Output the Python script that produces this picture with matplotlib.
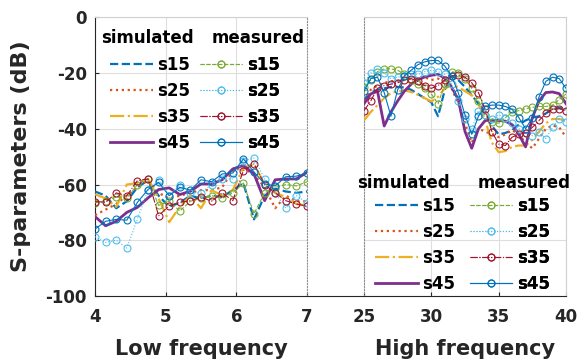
import numpy as np
import matplotlib.pyplot as plt
from matplotlib.lines import Line2D

plt.rcParams['font.family'] = 'DejaVu Sans'
plt.rcParams['font.weight'] = 'bold'
plt.rcParams['axes.labelweight'] = 'bold'
plt.rcParams['axes.unicode_minus'] = False

# ---- low band (GHz) ----
low_freq = [4.00, 4.15, 4.30, 4.45, 4.60, 4.75, 4.90, 5.05, 5.20, 5.35, 5.50,
            5.65, 5.80, 5.95, 6.10, 6.25, 6.40, 6.55, 6.70, 6.85, 7.00]

low_sim_s15 = [-62.5, -64, -68.5, -66, -61, -58.5, -64, -68, -66.5, -64, -65,
               -64, -64.5, -62, -59.5, -72.5, -64, -61.5, -62.5, -63, -62.5]
low_sim_s25 = [-71, -69, -67, -64, -61, -58.5, -63, -65, -64, -63, -62,
               -62, -61, -55, -54, -56.5, -61, -68.5, -64, -66, -66]
low_sim_s35 = [-63.5, -65, -68, -60, -59.5, -58, -65, -73.5, -68, -64, -68.5,
               -62, -64, -62, -54, -52.5, -60, -63, -64.5, -67, -67.5]
low_sim_s45 = [-71.5, -74.8, -73.2, -70, -68.2, -64.8, -61.8, -61.2, -63.6, -62.4, -59.8,
               -59.8, -58.3, -54.4, -53.2, -56.2, -65.8, -58.3, -58, -58, -55.6]

low_meas_s15 = [-66.5, -66, -64.5, -65, -60, -58, -67.5, -66, -69.5, -66, -65,
                -64, -65, -63, -59.5, -70.5, -63, -61, -60, -60.5, -59]
low_meas_s25 = [-78.7, -80.8, -80, -82.8, -72.4, -62, -58.3, -64, -60, -63, -63,
                -60, -58, -58, -51.5, -50.5, -58, -63, -68.5, -64, -66.5]
low_meas_s35 = [-66.1, -66.4, -63, -64, -58.6, -58, -71.2, -67.6, -66.4, -65.8, -64.5,
                -66, -63, -65.8, -55, -52.6, -60, -63, -65.8, -67, -67.8]
low_meas_s45 = [-76, -73.2, -72.5, -72.8, -66.4, -61.8, -59.2, -64.0, -61.0, -62.0, -58.3,
                -59.0, -56.2, -55.9, -50.8, -55.5, -59.8, -60.5, -57.2, -57.0, -55.8]

# ---- high band (GHz) ----
high_freq = [25.0, 25.5, 26.0, 26.5, 27.0, 27.5, 28.0, 28.5, 29.0, 29.5, 30.0,
             30.5, 31.0, 31.5, 32.0, 32.5, 33.0, 33.5, 34.0, 34.5, 35.0,
             35.5, 36.0, 36.5, 37.0, 37.5, 38.0, 38.5, 39.0, 39.5, 40.0]

high_sim_s15 = [-29.5, -27, -26, -25.5, -25, -25, -25.2, -26, -27.5, -29, -30.5,
                -35.5, -26, -21, -22.5, -25, -28, -31, -35, -39, -42,
                -41.5, -40.5, -38.5, -37, -36, -35.5, -34.5, -33, -32.5, -33]
high_sim_s25 = [-30, -26, -24.5, -23.5, -23, -22.8, -22.5, -22, -21.5, -21.5, -22.5,
                -22, -23, -25.5, -31, -38, -45, -40, -41, -42, -43,
                -42, -40.5, -42, -45, -47, -43.5, -40, -38.8, -39.5, -43]
high_sim_s35 = [-37, -34, -31.5, -29, -27.2, -26.5, -26.2, -26.8, -27.8, -29, -30.2,
                -28.5, -25.5, -24.5, -25, -26.5, -28, -31, -37, -45, -48.4,
                -48, -46.5, -46, -46, -44, -41, -38, -36.5, -36.5, -37]
high_sim_s45 = [-31, -27.5, -26.5, -39, -34, -30, -26.5, -24, -22.5, -21.4, -20.8,
                -20.5, -21.8, -25, -29.5, -41, -47, -40, -37, -37, -37,
                -37.3, -38.5, -42, -46.5, -36, -30, -27, -26.8, -27.4, -31]

high_meas_s15 = [-25, -22.5, -19.5, -18.5, -18.5, -19, -20.5, -22.5, -24, -25.5, -27.5,
                 -31, -24, -19.5, -20, -22, -25.5, -30, -35, -37.5, -38,
                 -36, -34, -33.5, -32.8, -32.3, -32, -32, -31.5, -29.5, -27.5]
high_meas_s25 = [-23.5, -20, -18.5, -20, -22, -21.5, -21, -20.5, -20.5, -19.5, -19,
                 -19.5, -20.5, -24, -30, -36.5, -40, -33.5, -35, -36.5, -35,
                 -36, -38, -40, -41.5, -42.5, -41, -43.5, -39.5, -36.5, -37.5]
high_meas_s35 = [-33.5, -30, -25.5, -24.5, -24, -23.5, -22.5, -22, -23, -24.5, -25.5,
                 -24.5, -22.5, -21, -20.8, -21.5, -23.5, -27, -33, -41, -45.5,
                 -46, -43, -42, -41.5, -39.5, -37, -34.5, -33, -32.8, -33.5]
high_meas_s45 = [-26.5, -22, -21.5, -27, -35.5, -26, -21, -19, -17, -16, -15.5,
                 -15.5, -17.5, -21, -27, -35, -42, -35.5, -32, -31.5, -31.5,
                 -32, -33, -36, -40, -36, -28.5, -23, -21.5, -22, -25.5]

names = ['s15', 's25', 's35', 's45']
sim_colors = ['#0072BD', '#D95319', '#EDB120', '#7E2F8E']
sim_styles = ['--', ':', '-.', '-']
sim_widths = [1.6, 1.6, 1.6, 2.0]
meas_colors = ['#77AC30', '#4DBEEE', '#A2142F', '#0072BD']
meas_styles = ['--', ':', '-.', '-']

W, H = 582, 362
fig = plt.figure(figsize=(W / 100, H / 100), dpi=100)
bot = 1 - 296 / H
hgt = (296 - 17.3) / H
ax1 = fig.add_axes([95 / W, bot, (307 - 95) / W, hgt])
ax2 = fig.add_axes([364 / W, bot, (566 - 364) / W, hgt])

low_sim = [low_sim_s15, low_sim_s25, low_sim_s35, low_sim_s45]
low_meas = [low_meas_s15, low_meas_s25, low_meas_s35, low_meas_s45]
high_sim = [high_sim_s15, high_sim_s25, high_sim_s35, high_sim_s45]
high_meas = [high_meas_s15, high_meas_s25, high_meas_s35, high_meas_s45]


def draw_band(ax, freq, sims, meas):
    sim_h, meas_h = [], []
    for i in range(4):
        l, = ax.plot(freq, sims[i], color=sim_colors[i], ls=sim_styles[i],
                     lw=sim_widths[i], zorder=3)
        sim_h.append(l)
    for i in range(4):
        l, = ax.plot(freq, meas[i], color=meas_colors[i], ls=meas_styles[i],
                     lw=0.8, marker='o', ms=5, mfc='none', mew=0.8, zorder=4)
        meas_h.append(l)
    ax.set_ylim(-100, 0)
    ax.set_yticks([-100, -80, -60, -40, -20, 0])
    ax.grid(True, color='#DEDEDE', lw=0.8)
    ax.set_axisbelow(True)
    ax.tick_params(direction='in', length=3, color='#262626', labelcolor='#262626',
                   labelsize=12)
    ax.tick_params(axis='x', pad=9)
    ax.tick_params(axis='y', pad=6)
    for s in ['left', 'bottom']:
        ax.spines[s].set_color('#262626')
    ax.spines['top'].set_color('#D0D0D0')
    return sim_h, meas_h


sim1, meas1 = draw_band(ax1, low_freq, low_sim, low_meas)
sim2, meas2 = draw_band(ax2, high_freq, high_sim, high_meas)

ax1.set_xlim(4, 7)
ax1.set_xticks([4, 5, 6, 7])
ax1.spines['right'].set_linestyle(':')
ax1.spines['right'].set_color('#909090')

ax2.set_xlim(25, 40)
ax2.set_xticks([25, 30, 35, 40])
ax2.tick_params(axis='y', left=False, labelleft=False)
ax2.spines['left'].set_linestyle(':')
ax2.spines['left'].set_color('#909090')
ax2.spines['right'].set_color('#D0D0D0')

for ax in (ax1, ax2):
    for lbl in ax.get_xticklabels() + ax.get_yticklabels():
        lbl.set_fontweight('bold')

# continuous bottom line across the gap
fig.add_artist(Line2D([307 / W, 364 / W], [bot, bot], transform=fig.transFigure,
                      color='#262626', lw=0.8))

ax1.set_ylabel('S-parameters (dB)', fontsize=16, color='#262626')
ax1.yaxis.set_label_coords(-0.30, 0.5)
ax1.set_xlabel('Low frequency', fontsize=15, color='#262626')
ax1.xaxis.set_label_coords(0.5, -0.155)
ax2.set_xlabel('High frequency', fontsize=15, color='#262626')
ax2.xaxis.set_label_coords(0.5, -0.155)


def add_legend(ax, handles, x_px, y_px, hl, pad):
    leg = ax.legend(handles, names, loc='upper left',
                    bbox_to_anchor=(x_px / W, 1 - y_px / H),
                    bbox_transform=fig.transFigure, frameon=False,
                    handlelength=hl, handletextpad=pad, labelspacing=0.48,
                    borderpad=0, borderaxespad=0, numpoints=1,
                    prop={'size': 12, 'weight': 'bold'})
    ax.add_artist(leg)


add_legend(ax1, sim1, 110, 55.5, 2.6, 0.2)
add_legend(ax1, meas1, 200, 55.5, 2.5, 0.3)
add_legend(ax2, sim2, 375, 197, 2.6, 0.2)
add_legend(ax2, meas2, 470, 197, 2.5, 0.3)

for x, y, t in [(101, 43, 'simulated'), (212, 43, 'measured'),
                (357, 188, 'simulated'), (478, 188, 'measured')]:
    fig.text(x / W, 1 - y / H, t, fontsize=12, fontweight='bold', va='baseline')

fig.savefig('out.png', dpi=100)
